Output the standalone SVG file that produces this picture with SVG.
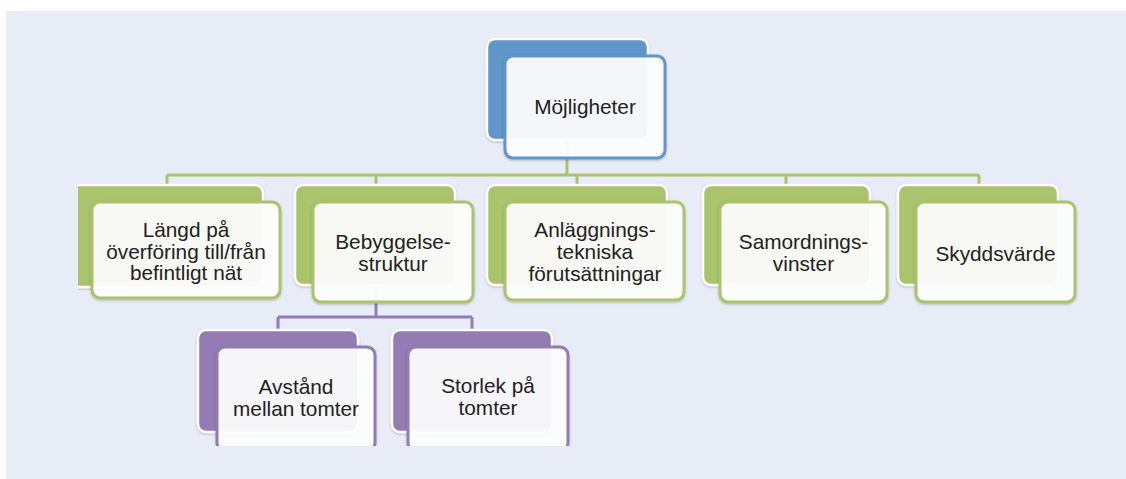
<svg xmlns="http://www.w3.org/2000/svg" width="1126" height="479" viewBox="0 0 1126 479">
<defs>
<style>
.bg{fill:#E8ECF7}
.back{stroke:#FFFFFF;stroke-width:2.5}
.front{fill:#FFFFFF;fill-opacity:0.92;stroke-width:3}
.g .back{fill:#A9C46C}
.g .front{stroke:#A9C46C}
.b .back{fill:#6096C9}
.b .front{stroke:#6096C9}
.p .back{fill:#937BB3}
.p .front{stroke:#937BB3}
.lbl{font-family:"Liberation Sans",Arial,sans-serif;font-size:20.8px;fill:#222222;text-anchor:middle}
.cg{stroke:#A9C46C;stroke-width:3;fill:none}
.cp{stroke:#937BB3;stroke-width:3;fill:none}
</style>
<filter id="sh" x="-10%" y="-10%" width="120%" height="120%">
<feDropShadow dx="0" dy="1" stdDeviation="0.8" flood-color="#000000" flood-opacity="0.25"/>
</filter>
<clipPath id="clipL"><rect x="78" y="0" width="1048" height="479"/></clipPath>
<clipPath id="clipB"><rect x="0" y="0" width="1126" height="446"/></clipPath>
</defs>
<rect x="0" y="0" width="1126" height="479" fill="#FFFFFF"/>
<rect class="bg" x="6" y="11" width="1120" height="468"/>
<g id="connectors">
<path class="cg" d="M567 140 V175 M167 175 H979 M167 175 V186 M376 175 V186 M577 175 V186 M786 175 V186 M979 175 V186"/>
<path class="cp" d="M376 285 V317 M278 317 H472 M278 317 V331 M472 317 V331"/>
</g>
<g id="n-root" class="b">
<rect class="back" x="487" y="39" width="161" height="101" rx="8" filter="url(#sh)"/>
<rect class="front" x="505" y="56" width="160" height="102" rx="8" filter="url(#sh)"/>
<text class="lbl" x="585" y="114">Möjligheter</text>
</g>
<g id="n-langd" class="g">
<g clip-path="url(#clipL)"><rect class="back" x="70" y="185" width="193" height="102" rx="8" filter="url(#sh)"/></g>
<rect class="front" x="92" y="202" width="188" height="96" rx="8" filter="url(#sh)"/>
<text class="lbl" x="186" y="237">Längd på</text>
<text class="lbl" x="186" y="258.5">överföring till/från</text>
<text class="lbl" x="186" y="280">befintligt nät</text>
</g>
<g id="n-bebyggelse" class="g">
<rect class="back" x="295" y="185" width="160" height="100" rx="8" filter="url(#sh)"/>
<rect class="front" x="313" y="202" width="160" height="100" rx="8" filter="url(#sh)"/>
<text class="lbl" x="393" y="249">Bebyggelse-</text>
<text class="lbl" x="393" y="270.5">struktur</text>
</g>
<g id="n-anlaggning" class="g">
<rect class="back" x="487" y="185" width="180" height="100" rx="8" filter="url(#sh)"/>
<rect class="front" x="505" y="202" width="179" height="98" rx="8" filter="url(#sh)"/>
<text class="lbl" x="595" y="237">Anläggnings-</text>
<text class="lbl" x="595" y="259">tekniska</text>
<text class="lbl" x="595" y="281">förutsättningar</text>
</g>
<g id="n-samordning" class="g">
<rect class="back" x="703" y="185" width="167" height="100" rx="8" filter="url(#sh)"/>
<rect class="front" x="720" y="202" width="167" height="100" rx="8" filter="url(#sh)"/>
<text class="lbl" x="803.5" y="249">Samordnings-</text>
<text class="lbl" x="803.5" y="270.5">vinster</text>
</g>
<g id="n-skydd" class="g">
<rect class="back" x="898" y="185" width="160" height="100" rx="8" filter="url(#sh)"/>
<rect class="front" x="916" y="202" width="159" height="100" rx="8" filter="url(#sh)"/>
<text class="lbl" x="995.5" y="261">Skyddsvärde</text>
</g>
<g id="n-avstand" class="p" clip-path="url(#clipB)">
<rect class="back" x="198" y="330" width="160" height="102" rx="8" filter="url(#sh)"/>
<rect class="front" x="217" y="347" width="158" height="104" rx="8" filter="url(#sh)"/>
<text class="lbl" x="296" y="394">Avstånd</text>
<text class="lbl" x="296" y="415.5">mellan tomter</text>
</g>
<g id="n-storlek" class="p" clip-path="url(#clipB)">
<rect class="back" x="392" y="330" width="160" height="102" rx="8" filter="url(#sh)"/>
<rect class="front" x="408" y="347" width="160" height="104" rx="8" filter="url(#sh)"/>
<text class="lbl" x="488" y="393">Storlek på</text>
<text class="lbl" x="488" y="415">tomter</text>
</g>
</svg>
